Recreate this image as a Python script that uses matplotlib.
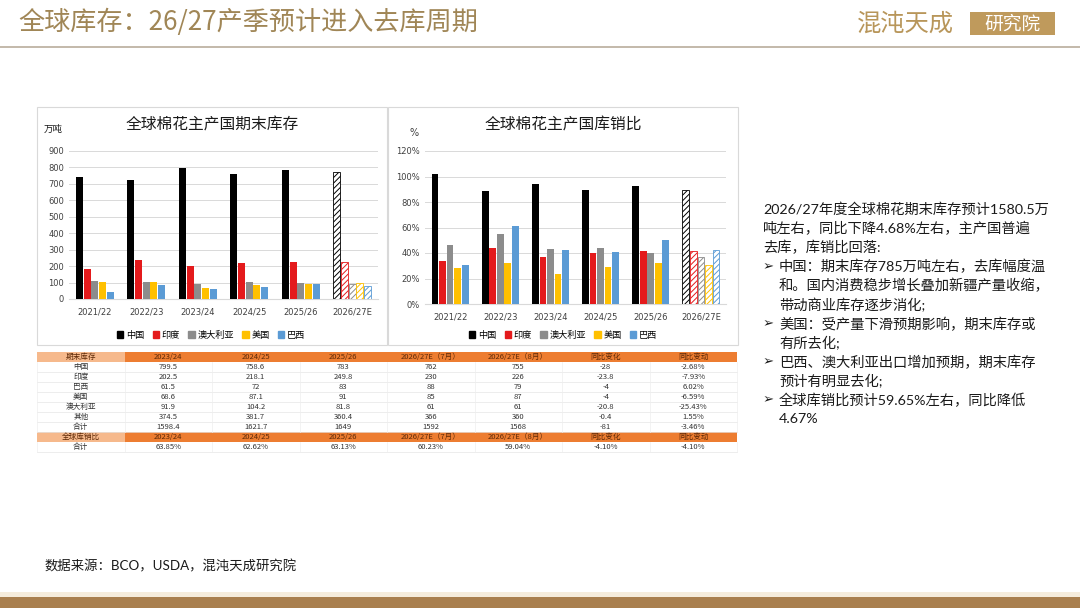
import numpy as np
import matplotlib
matplotlib.use("Agg")
import matplotlib.pyplot as plt
from matplotlib.patches import Rectangle, Patch

plt.rcParams['font.family'] = ['Lato', 'Noto Sans CJK SC', 'DejaVu Sans']
plt.rcParams['hatch.linewidth'] = 0.7

W, H = 1080, 608

# ---- 数据 ----
years = ["2021/22", "2022/23", "2023/24", "2024/25", "2025/26", "2026/27E"]
countries = ["中国", "印度", "澳大利亚", "美国", "巴西"]
colors = ["#000000", "#e41a1c", "#8c8c8c", "#ffc000", "#5b9bd5"]

# 期末库存 (万吨)
stock_cn = [744, 724, 799.5, 758.6, 783, 774]
stock_in = [183, 238, 202.5, 218.1, 228, 226]
stock_au = [111, 105, 91.9, 104.2, 95, 93]
stock_us = [101, 101, 68.6, 87.1, 93, 100]
stock_br = [44, 85, 61.5, 72, 90, 81]

# 库销比 (%)
ratio_cn = [101.8, 88.5, 94.3, 89.3, 92.4, 89.8]
ratio_in = [33.6, 44.3, 36.7, 39.8, 41.9, 41.7]
ratio_au = [46.4, 55.2, 43.2, 44.3, 39.8, 37.0]
ratio_us = [27.9, 32.0, 23.2, 29.2, 32.3, 30.5]
ratio_br = [30.7, 61.2, 42.7, 41.1, 50.3, 42.4]

# 表格
tab_head1 = ["期末库存", "2023/24", "2024/25", "2025/26", "2026/27E（7月）", "2026/27E（8月）", "同比变化", "同比变动"]
tab_rows = [
    ["中国", "799.5", "758.6", "783", "762", "755", "-28", "-2.68%"],
    ["印度", "202.5", "218.1", "249.8", "230", "226", "-23.8", "-7.93%"],
    ["巴西", "61.5", "72", "83", "88", "79", "-4", "6.02%"],
    ["美国", "68.6", "87.1", "91", "85", "87", "-4", "-6.59%"],
    ["澳大利亚", "91.9", "104.2", "81.8", "61", "61", "-20.8", "-25.43%"],
    ["其他", "374.5", "381.7", "360.4", "366", "360", "-0.4", "1.55%"],
    ["合计", "1598.4", "1621.7", "1649", "1592", "1568", "-81", "-3.46%"],
]
tab_head2 = ["全球库销比", "2023/24", "2024/25", "2025/26", "2026/27E（7月）", "2026/27E（8月）", "同比变化", "同比变动"]
tab_last = ["合计", "63.85%", "62.62%", "63.13%", "60.23%", "59.04%", "-4.10%", "-4.10%"]

text_lines = [
    ("", "2026/27年度全球棉花期末库存预计1580.5万"),
    ("", "吨左右，同比下降4.68%左右，主产国普遍"),
    ("", "去库，库销比回落:"),
    ("➢", "中国：期末库存785万吨左右，去库幅度温"),
    (" ", "和。国内消费稳步增长叠加新疆产量收缩，"),
    (" ", "带动商业库存逐步消化;"),
    ("➢", "美国：受产量下滑预期影响，期末库存或"),
    (" ", "有所去化;"),
    ("➢", "巴西、澳大利亚出口增加预期，期末库存"),
    (" ", "预计有明显去化;"),
    ("➢", "全球库销比预计59.65%左右，同比降低"),
    (" ", "4.67%"),
]


def px_axes(fig, x0, y0, x1, y1, **kw):
    return fig.add_axes([x0 / W, 1 - y1 / H, (x1 - x0) / W, (y1 - y0) / H], **kw)


fig = plt.figure(figsize=(W / 100, H / 100), dpi=100)
fig.patch.set_facecolor("white")

# 背景层 (像素坐标)
bg = px_axes(fig, 0, 0, W, H)
bg.set_xlim(0, W)
bg.set_ylim(H, 0)
bg.axis("off")

gold = "#a08656"
bg.text(18, 22, "全球库存：26/27产季预计进入去库周期", fontsize=18.8, color=gold,
        va="center", ha="left", family=['Noto Sans CJK SC', 'DejaVu Sans'])
bg.plot([0, W], [47, 47], color="#b9ad9c", lw=1.2)
# logo
bg.text(905, 24, "混沌天成", fontsize=17.5, color="#b8965a", va="center", ha="center",
        family=['Noto Sans CJK SC'], fontweight="light")
bg.add_patch(Rectangle((970, 12), 85, 23, color="#bf9a5c", lw=0))
bg.text(1012, 24.5, "研究院", fontsize=13.5, color="white", va="center", ha="center",
        family=['Noto Sans CJK SC'], fontweight="light")

# 图框
for x0 in (37, 388):
    bg.add_patch(Rectangle((x0, 107), 350, 238, fill=False, ec="#d9d9d9", lw=0.8))

# 表格
col_x = np.linspace(37, 737, 9)
row_h = 10
y = 352
peach, orange = "#f6b98c", "#ed7d31"
tfs = 5.5
tfam = ['Noto Sans CJK SC', 'DejaVu Sans']


def head_row(y, cells):
    for i, c in enumerate(cells):
        bg.add_patch(Rectangle((col_x[i], y), col_x[i + 1] - col_x[i], row_h,
                               color=peach if i == 0 else orange, lw=0))
        bg.text((col_x[i] + col_x[i + 1]) / 2, y + row_h / 2, c, fontsize=tfs,
                color="#5e2a08", ha="center", va="center", family=tfam)


def data_row(y, cells):
    for i, c in enumerate(cells):
        bg.text((col_x[i] + col_x[i + 1]) / 2, y + row_h / 2, c, fontsize=tfs,
                color="#333333", ha="center", va="center", family=tfam)
    bg.plot([col_x[0], col_x[-1]], [y + row_h, y + row_h], color="#e6e6e6", lw=0.5)
    for xv in col_x:
        bg.plot([xv, xv], [y, y + row_h], color="#eeeeee", lw=0.5)


head_row(y, tab_head1)
y += row_h
for r in tab_rows:
    data_row(y, r)
    y += row_h
head_row(y, tab_head2)
y += row_h
data_row(y, tab_last)

# 右侧文字
ty = 209
for b, t in text_lines:
    if b == "":
        bg.text(763, ty, t, fontsize=10.3, color="#1a1a1a", va="center", ha="left")
    else:
        if b.strip():
            bg.text(763, ty, b, fontsize=9.5, color="#1a1a1a", va="center", ha="left",
                    family=['DejaVu Sans'])
        bg.text(779, ty, t, fontsize=10.3, color="#1a1a1a", va="center", ha="left")
    ty += 19.1

# 数据来源
bg.text(45, 566, "数据来源：BCO，USDA，混沌天成研究院", fontsize=9.6, color="#1a1a1a",
        va="center", ha="left")

# 底部色带
bg.add_patch(Rectangle((0, 592), W, 5, color="#f5ecdc", lw=0))
bg.add_patch(Rectangle((0, 597), W, 11, color="#a97f4e", lw=0))


def bar_chart(ax, series, ylim, yticks, ylabels):
    x = np.arange(len(years))
    offs = np.linspace(-0.3, 0.3, 5)
    for k, vals in enumerate(series):
        for j, v in enumerate(vals):
            if j == len(years) - 1:
                ax.bar(x[j] + offs[k], v, width=0.135, facecolor="white",
                       edgecolor=colors[k], hatch="//////", lw=0.6, zorder=3)
            else:
                ax.bar(x[j] + offs[k], v, width=0.135, color=colors[k], zorder=3)
    ax.set_xlim(-0.5, len(years) - 0.5)
    ax.set_ylim(*ylim)
    ax.set_yticks(yticks)
    ax.set_yticklabels(ylabels)
    ax.set_xticks(x)
    ax.set_xticklabels(years)
    ax.grid(axis="y", color="#d9d9d9", lw=0.7, zorder=0)
    for s in ("top", "right", "left"):
        ax.spines[s].set_visible(False)
    ax.spines["bottom"].set_color("#d9d9d9")
    ax.tick_params(axis="both", length=0, labelsize=6, labelcolor="#404040")
    for lab in ax.get_xticklabels() + ax.get_yticklabels():
        lab.set_fontfamily(['DejaVu Sans'])
    ax.tick_params(axis="x", pad=6)
    ax.patch.set_alpha(0)


handles = [Patch(color=c) for c in colors]
leg_kw = dict(loc="center", ncol=5, frameon=False, fontsize=6.6, handlelength=0.7,
              handleheight=0.7, handletextpad=0.3, columnspacing=0.9)

# 左图
ax1 = px_axes(fig, 69, 151, 378, 299)
bar_chart(ax1, [stock_cn, stock_in, stock_au, stock_us, stock_br], (0, 900),
          range(0, 901, 100), [str(v) for v in range(0, 901, 100)])
bg.text(212, 125, "全球棉花主产国期末库存", fontsize=11.3, color="#1a1a1a", ha="center", va="center")
bg.text(53, 129, "万吨", fontsize=6.8, color="#1a1a1a", ha="center", va="center")
fig.legend(handles, countries, bbox_to_anchor=(211 / W, 1 - 335 / H), **leg_kw)

# 右图
ax2 = px_axes(fig, 425, 151, 726, 304)
bar_chart(ax2, [ratio_cn, ratio_in, ratio_au, ratio_us, ratio_br], (0, 120),
          range(0, 121, 20), [f"{v}%" for v in range(0, 121, 20)])
bg.text(563, 125, "全球棉花主产国库销比", fontsize=11.3, color="#1a1a1a", ha="center", va="center")
bg.text(414, 133, "%", fontsize=7, color="#404040", ha="center", va="center", family=['DejaVu Sans'])
fig.legend(handles, countries, bbox_to_anchor=(563 / W, 1 - 335 / H), **leg_kw)

fig.savefig("out.png", dpi=100)
